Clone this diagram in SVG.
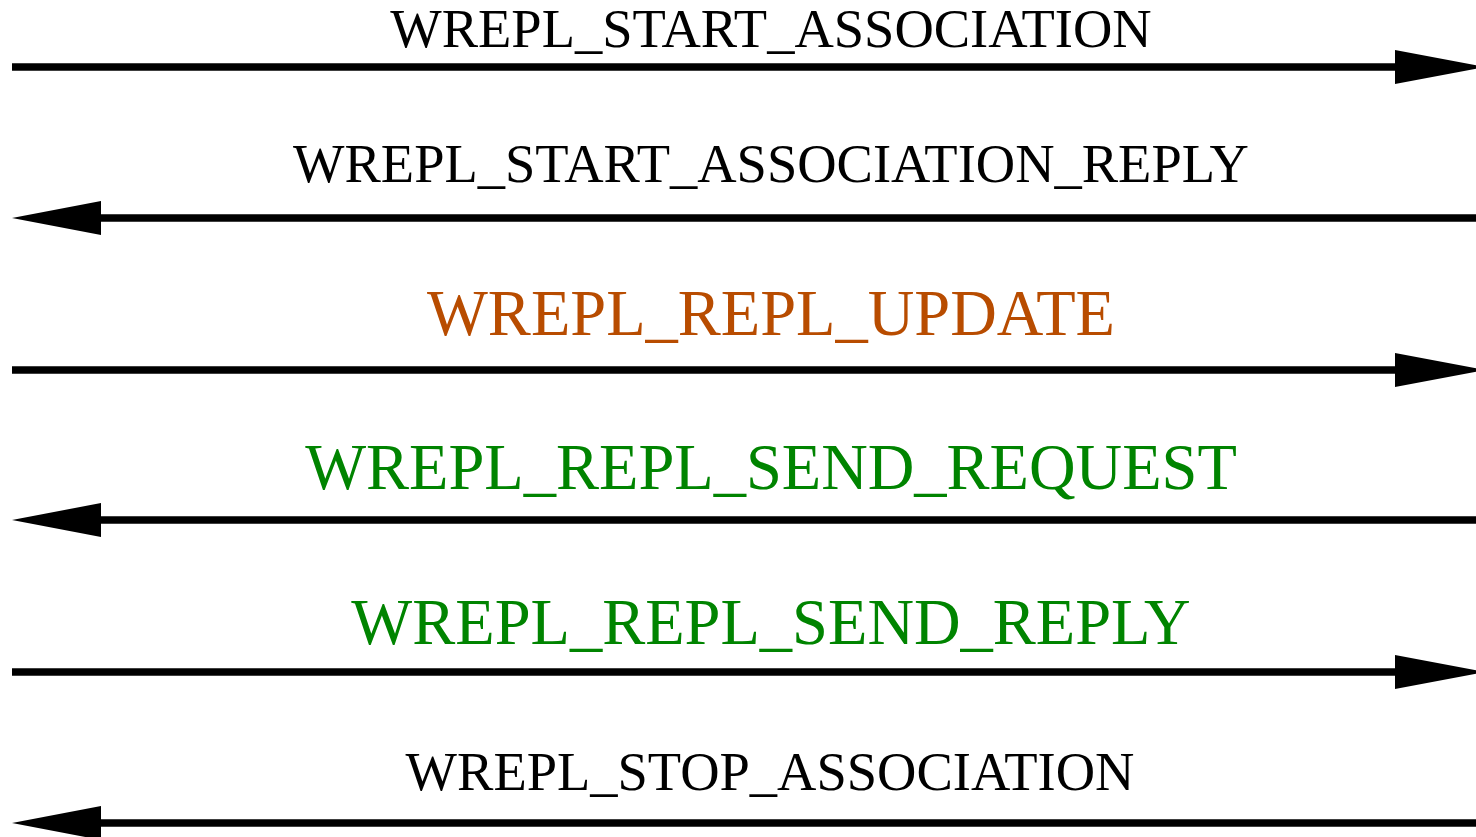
<svg xmlns="http://www.w3.org/2000/svg" width="1476" height="837" viewBox="0 0 1476 837">
  <style>
    .msg { stroke: #000; stroke-width: 7.5; fill: none; }
    .head { fill: #000; stroke: none; }
    text { font-family: "Liberation Serif", "Times New Roman", serif; text-anchor: middle; }
    .small { font-size: 54.5px; fill: #000; }
    .big { font-size: 64.5px; }
    .orange { fill: #b84c00; }
    .green { fill: #008400; }
  </style>
  <defs>
    <polygon id="headR" class="head" points="-90,-17 0,0 -90,17"/>
    <polygon id="headL" class="head" points="89,-17 0,0 89,17"/>
  </defs>

  <g id="connectors">
    <g id="m1">
      <line class="msg" x1="12" y1="67" x2="1400" y2="67"/>
      <use href="#headR" x="1485" y="67"/>
    </g>
    <g id="m2">
      <line class="msg" x1="1476" y1="218" x2="96" y2="218"/>
      <use href="#headL" x="12" y="218"/>
    </g>
    <g id="m3">
      <line class="msg" x1="12" y1="370" x2="1400" y2="370"/>
      <use href="#headR" x="1485" y="370"/>
    </g>
    <g id="m4">
      <line class="msg" x1="1476" y1="520" x2="96" y2="520"/>
      <use href="#headL" x="12" y="520"/>
    </g>
    <g id="m5">
      <line class="msg" x1="12" y1="672" x2="1400" y2="672"/>
      <use href="#headR" x="1485" y="672"/>
    </g>
    <g id="m6">
      <line class="msg" x1="1476" y1="823" x2="96" y2="823"/>
      <use href="#headL" x="12" y="823"/>
    </g>
  </g>

  <g id="labels">
    <text class="small" x="771" y="47">WREPL_START_ASSOCIATION</text>
    <text class="small" x="771" y="182">WREPL_START_ASSOCIATION_REPLY</text>
    <text class="big orange" x="771" y="335">WREPL_REPL_UPDATE</text>
    <text class="big green" x="771" y="489">WREPL_REPL_SEND_REQUEST</text>
    <text class="big green" x="771" y="644">WREPL_REPL_SEND_REPLY</text>
    <text class="small" x="770" y="790">WREPL_STOP_ASSOCIATION</text>
  </g>
</svg>
